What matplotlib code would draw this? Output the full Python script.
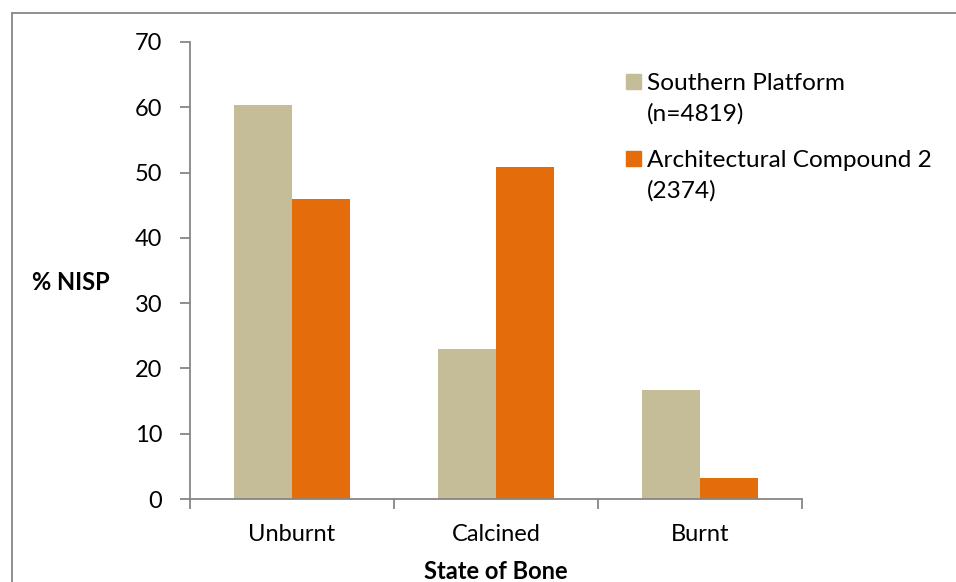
import matplotlib
matplotlib.use("Agg")
import matplotlib.pyplot as plt
from matplotlib.patches import Rectangle, Patch
from matplotlib.legend_handler import HandlerPatch

plt.rcParams['font.family'] = ['Lato', 'DejaVu Sans']

categories = ["Unburnt", "Calcined", "Burnt"]
southern_platform = [60.3, 23.0, 16.7]
arch_compound_2 = [45.9, 50.9, 3.2]
series_labels = ["Southern Platform\n(n=4819)", "Architectural Compound 2\n(2374)"]
yticks = [0, 10, 20, 30, 40, 50, 60, 70]

beige = "#C4BD97"
orange = "#E46C0A"
grey = "#868686"
fs = 17

fig = plt.figure(figsize=(9.56, 5.82), dpi=100)
ax = fig.add_axes([190 / 956, 1 - 499 / 582, 612 / 956, 457 / 582])

# outer chart border like the Excel chart area
fig.patches.append(Rectangle((12 / 956, -0.05), 1.2, 1 - 13 / 582 + 0.05,
                             transform=fig.transFigure, fill=False,
                             edgecolor=grey, linewidth=1.3))

w = 0.285
x = range(len(categories))
ax.bar([i - w / 2 for i in x], southern_platform, width=w, color=beige)
ax.bar([i + w / 2 for i in x], arch_compound_2, width=w, color=orange)

ax.set_xlim(-0.5, len(categories) - 0.5)
ax.set_ylim(0, 70)
ax.set_yticks(yticks)
ax.tick_params(axis='y', labelsize=fs, length=7, color=grey, width=1.3, pad=13)

# category labels between boundary ticks
ax.set_xticks([i - 0.5 for i in range(len(categories) + 1)])
ax.set_xticklabels([])
ax.set_xticks(list(x), minor=True)
ax.set_xticklabels(categories, minor=True, fontsize=fs)
ax.tick_params(axis='x', which='major', length=7, color=grey, width=1.3)
ax.tick_params(axis='x', which='minor', length=0, pad=18)

for side in ['top', 'right']:
    ax.spines[side].set_visible(False)
for side in ['left', 'bottom']:
    ax.spines[side].set_color(grey)
    ax.spines[side].set_linewidth(1.3)

ax.set_xlabel("State of Bone", fontsize=fs, fontweight='bold', labelpad=11)
fig.text(32 / 956, 1 - 283 / 582, "% NISP", fontsize=fs, fontweight='bold',
         va='center', ha='left')


# legend square sits next to the first line of a two-line label
def top_square(legend, orig_handle, xdescent, ydescent, width, height, fontsize):
    s = width
    return Rectangle((-xdescent, -ydescent + height - s + 0.3 * fontsize), s, s)


handles = [Patch(color=beige), Patch(color=orange)]
leg = fig.legend(handles, series_labels, loc='upper left',
                 bbox_to_anchor=(604 / 956, 1 - 51 / 582),
                 frameon=False, fontsize=17.6, handlelength=0.62, handleheight=1.9,
                 handletextpad=0.24, labelspacing=1.05,
                 handler_map={Patch: HandlerPatch(patch_func=top_square)})
for t in leg.get_texts():
    t.set_linespacing(1.5)

fig.savefig("out.png", dpi=100)
